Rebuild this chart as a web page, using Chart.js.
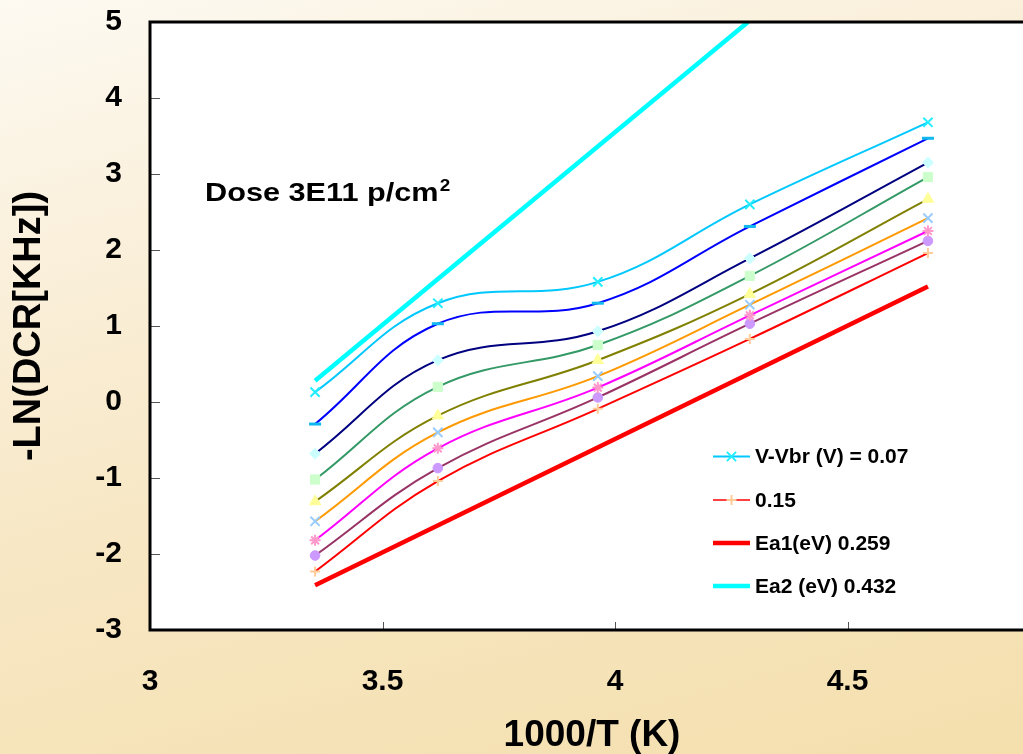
<!DOCTYPE html>
<html>
<head>
<meta charset="utf-8">
<title>Dark count rate vs 1000/T</title>
<script src="https://cdn.jsdelivr.net/npm/chart.js@4.4.1/dist/chart.umd.min.js"></script>
<style>
  html, body { margin: 0; padding: 0; width: 1023px; height: 754px; overflow: hidden; }
  body { background: linear-gradient(165deg, #fdfaf2 0%, #faf0dc 25%, #f7e7c4 55%, #f4dfad 100%); }
  canvas { display: block; }
</style>
</head>
<body>
<canvas id="arrhenius" width="1092" height="754"></canvas>
<script>
// Inverse temperature, 1000/T (K^-1)
const xValues = [3.355, 3.619, 3.963, 4.290, 4.673];

// -ln(DCR [kHz]) for each over-voltage V-Vbr
const biasLabels = ['V-Vbr (V) = 0.07', '0.08', '0.09', '0.10', '0.11', '0.12', '0.13', '0.14', '0.15'];
const dcr007 = [0.13, 1.30, 1.58, 2.60, 3.68];
const dcr008 = [-0.29, 1.03, 1.30, 2.31, 3.47];
const dcr009 = [-0.68, 0.55, 0.93, 1.89, 3.15];
const dcr010 = [-1.02, 0.20, 0.75, 1.66, 2.96];
const dcr011 = [-1.31, -0.18, 0.55, 1.42, 2.67];
const dcr012 = [-1.57, -0.40, 0.34, 1.28, 2.42];
const dcr013 = [-1.82, -0.61, 0.19, 1.14, 2.25];
const dcr014 = [-2.02, -0.87, 0.06, 1.03, 2.12];
const dcr015 = [-2.23, -1.04, -0.09, 0.83, 1.96];

// Activation-energy fit lines
const ea1Label = 'Ea1(eV) 0.259';
const ea1X = [3.355, 4.673];
const ea1Y = [-2.41, 1.52];
const ea2Label = 'Ea2 (eV) 0.432';
const ea2X = [3.355, 4.286];
const ea2Y = [0.28, 5.0];

// Axis ticks
const xTicks = [3, 3.5, 4, 4.5, 5];
const yTicks = [-3, -2, -1, 0, 1, 2, 3, 4, 5];

const FONT = "'Liberation Sans', Arial, Helvetica, sans-serif";

// Line / marker styles per over-voltage series
const seriesStyles = [
  { line: '#00c8ff', marker: '#22eeff', style: 'crossRot', r: 6.5, bw: 2 },
  { line: '#0000ff', marker: '#10b8f0', style: 'line',     r: 6,   bw: 3 },
  { line: '#000080', marker: '#ccffff', style: 'rectRot',  r: 5.5, bw: 1 },
  { line: '#339966', marker: '#ccffcc', style: 'rect',     r: 6.5, bw: 1 },
  { line: '#808000', marker: '#ffff99', style: 'triangle', r: 6.5, bw: 1 },
  { line: '#ff9900', marker: '#99ccff', style: 'crossRot', r: 6.5, bw: 2 },
  { line: '#ff00ff', marker: '#ff99cc', style: 'star',     r: 5.5, bw: 2 },
  { line: '#993366', marker: '#cc99ff', style: 'circle',   r: 4.8, bw: 1 },
  { line: '#ff0000', marker: '#ffcc99', style: 'cross',    r: 5,   bw: 2 }
];

const dcrSeries = [dcr007, dcr008, dcr009, dcr010, dcr011, dcr012, dcr013, dcr014, dcr015];

const datasets = dcrSeries.map((vals, i) => {
  const st = seriesStyles[i];
  return {
    label: biasLabels[i],
    data: vals.map((v, j) => ({ x: xValues[j], y: v })),
    borderColor: st.line,
    borderWidth: 2,
    tension: 0.4,
    fill: false,
    pointStyle: st.style,
    pointRadius: st.r,
    pointBackgroundColor: st.marker,
    pointBorderColor: st.marker,
    pointBorderWidth: st.bw
  };
});

datasets.push({
  label: ea1Label,
  data: ea1X.map((x, j) => ({ x, y: ea1Y[j] })),
  borderColor: '#ff0000',
  borderWidth: 4.5,
  tension: 0,
  pointRadius: 0,
  fill: false
});
datasets.push({
  label: ea2Label,
  data: ea2X.map((x, j) => ({ x, y: ea2Y[j] })),
  borderColor: '#00ffff',
  borderWidth: 4.5,
  tension: 0,
  pointRadius: 0,
  fill: false
});

// White plot area, black frame and inward tick marks
const plotFrame = {
  id: 'plotFrame',
  beforeDraw(chart) {
    const { ctx, chartArea: a } = chart;
    ctx.save();
    ctx.fillStyle = '#ffffff';
    ctx.fillRect(a.left, a.top, a.right - a.left, a.bottom - a.top);
    ctx.restore();
  },
  afterDatasetsDraw(chart) {
    const { ctx, chartArea: a, scales } = chart;
    ctx.save();
    ctx.strokeStyle = '#555555';
    ctx.lineWidth = 1;
    ctx.beginPath();
    yTicks.forEach(v => {
      const py = Math.round(scales.y.getPixelForValue(v)) + 0.5;
      ctx.moveTo(a.left, py);
      ctx.lineTo(a.left + 10, py);
    });
    xTicks.forEach(v => {
      const px = Math.round(scales.x.getPixelForValue(v)) + 0.5;
      ctx.moveTo(px, a.bottom);
      ctx.lineTo(px, a.bottom - 8);
    });
    ctx.stroke();
    ctx.strokeStyle = '#000000';
    ctx.lineWidth = 3;
    ctx.beginPath();
    ctx.rect(a.left, a.top, a.right - a.left, a.bottom - a.top);
    ctx.stroke();
    ctx.restore();
  }
};

// Legend entries, dose note and x-axis title
const legendEntries = [0, 8, 9, 10];
const chartText = {
  id: 'chartText',
  afterDraw(chart) {
    const { ctx } = chart;
    const ds = chart.data.datasets;
    ctx.save();

    // legend
    const rowY = [456.5, 500, 543, 586];
    ctx.font = 'bold 21px ' + FONT;
    ctx.textBaseline = 'middle';
    ctx.textAlign = 'left';
    legendEntries.forEach((idx, k) => {
      const d = ds[idx];
      const y = rowY[k];
      ctx.strokeStyle = d.borderColor;
      ctx.lineWidth = d.borderWidth > 3 ? d.borderWidth : (idx === 0 ? 2 : 1.5);
      ctx.beginPath();
      ctx.moveTo(713, y);
      ctx.lineTo(750, y);
      ctx.stroke();
      if (d.pointRadius > 0) {
        ctx.fillStyle = d.pointBackgroundColor;
        ctx.strokeStyle = d.pointBorderColor;
        ctx.lineWidth = d.pointBorderWidth;
        Chart.helpers.drawPoint(ctx, {
          pointStyle: d.pointStyle,
          radius: d.pointRadius,
          borderWidth: d.pointBorderWidth,
          rotation: 0
        }, 731.5, y);
      }
      ctx.fillStyle = '#000000';
      ctx.fillText(d.label, 755, y + 1);
    });

    // dose note
    ctx.textBaseline = 'alphabetic';
    ctx.translate(205, 201);
    ctx.scale(1.18, 1);
    ctx.font = 'bold 26px ' + FONT;
    const note = 'Dose 3E11 p/cm';
    ctx.fillText(note, 0, 0);
    const w = ctx.measureText(note).width;
    ctx.font = 'bold 16px ' + FONT;
    ctx.fillText('2', w + 1, -10);
    ctx.setTransform(1, 0, 0, 1, 0, 0);

    // x-axis title
    ctx.font = 'bold 37px ' + FONT;
    ctx.textAlign = 'center';
    ctx.textBaseline = 'alphabetic';
    ctx.fillText('1000/T (K)', 592, 746);
    ctx.restore();
  }
};

new Chart(document.getElementById('arrhenius'), {
  type: 'line',
  data: { datasets },
  options: {
    responsive: false,
    animation: false,
    devicePixelRatio: 1,
    layout: { padding: { top: 22, right: 12, bottom: 0, left: 0 } },
    plugins: { legend: { display: false }, tooltip: { enabled: false } },
    scales: {
      x: {
        type: 'linear',
        min: 3,
        max: 5,
        afterBuildTicks: s => { s.ticks = xTicks.map(v => ({ value: v })); },
        afterFit: s => { s.height = 124; s.paddingLeft = 0; s.paddingRight = 0; },
        grid: { display: false, drawTicks: false },
        border: { display: false },
        ticks: {
          color: '#000000',
          font: { family: FONT, size: 30, weight: 'bold' },
          padding: 34,
          maxRotation: 0,
          autoSkip: false,
          callback: v => String(v)
        }
      },
      y: {
        type: 'linear',
        min: -3,
        max: 5,
        afterBuildTicks: s => { s.ticks = yTicks.map(v => ({ value: v })); },
        afterFit: s => { s.width = 150; s.paddingTop = 0; s.paddingBottom = 0; },
        grid: { display: false, drawTicks: false },
        border: { display: false },
        ticks: {
          color: '#000000',
          font: { family: FONT, size: 30, weight: 'bold' },
          padding: 28,
          autoSkip: false,
          callback: v => String(v)
        },
        title: {
          display: true,
          text: '-LN(DCR[KHz])',
          color: '#000000',
          font: { family: FONT, size: 38, weight: 'bold' },
          padding: { top: 7, bottom: 0 }
        }
      }
    }
  },
  plugins: [plotFrame, chartText]
});
</script>
</body>
</html>
